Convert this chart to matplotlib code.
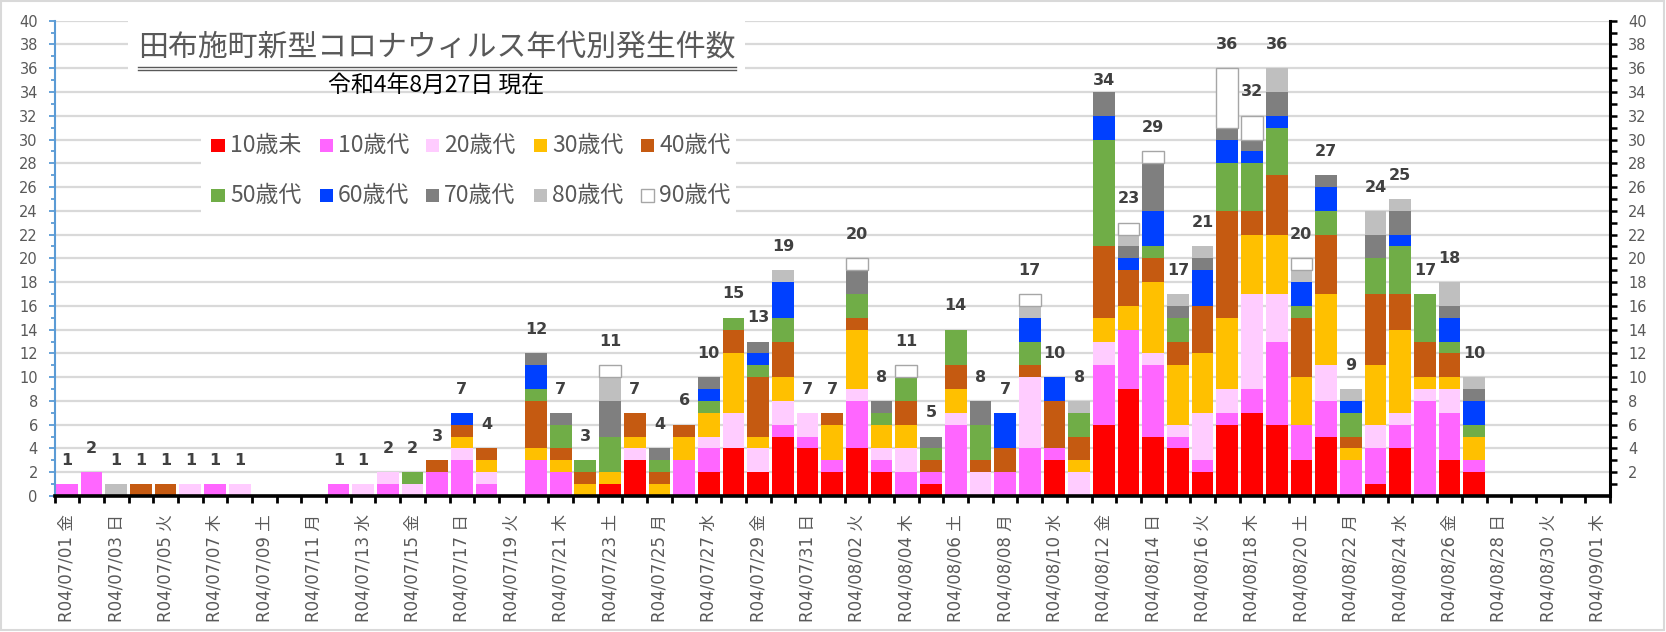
import numpy as np
import matplotlib
matplotlib.use("Agg")
import matplotlib.pyplot as plt
from matplotlib.patches import Rectangle
from matplotlib.lines import Line2D

plt.rcParams['font.family'] = ['Noto Sans CJK JP', 'DejaVu Sans']
NUM_FONT = ['DejaVu Sans', 'Noto Sans CJK JP']

# ---------------- data ----------------
n_days = 63  # R04/07/01 .. R04/09/01

tick_labels = ["R04/07/01 金", "R04/07/03 日", "R04/07/05 火", "R04/07/07 木",
               "R04/07/09 土", "R04/07/11 月", "R04/07/13 水", "R04/07/15 金",
               "R04/07/17 日", "R04/07/19 火", "R04/07/21 木", "R04/07/23 土",
               "R04/07/25 月", "R04/07/27 水", "R04/07/29 金", "R04/07/31 日",
               "R04/08/02 火", "R04/08/04 木", "R04/08/06 土", "R04/08/08 月",
               "R04/08/10 水", "R04/08/12 金", "R04/08/14 日", "R04/08/16 火",
               "R04/08/18 木", "R04/08/20 土", "R04/08/22 月", "R04/08/24 水",
               "R04/08/26 金", "R04/08/28 日", "R04/08/30 火", "R04/09/01 木"]

series_names = ["10歳未", "10歳代", "20歳代", "30歳代", "40歳代",
                "50歳代", "60歳代", "70歳代", "80歳代", "90歳代"]

under10 = [0,0,0,0,0,0,0,0,0,0,
           0,0,0,0,0,0,0,0,0,0,
           0,0,1,3,0,0,2,4,2,5,
           4,2,4,2,0,1,0,0,0,0,
           3,0,6,9,5,4,2,6,7,6,
           3,5,0,1,4,0,3,2,0,0,
           0,0,0]
age10 = [1,2,0,0,0,0,1,0,0,0,
         0,1,0,1,0,2,3,1,0,3,
         2,0,0,0,0,3,2,0,0,1,
         1,1,4,1,2,1,6,0,2,4,
         1,0,5,5,6,1,1,1,2,7,
         3,3,3,3,2,8,4,1,0,0,
         0,0,0]
age20 = [0,0,0,0,0,1,0,1,0,0,
         0,0,1,1,1,0,1,1,0,0,
         0,0,0,1,0,0,1,3,2,2,
         2,0,1,1,2,0,1,2,0,6,
         0,2,2,0,1,1,4,2,8,4,
         0,3,0,2,1,1,2,0,0,0,
         0,0,0]
age30 = [0,0,0,0,0,0,0,0,0,0,
         0,0,0,0,0,0,1,1,0,1,
         1,1,1,1,1,2,2,5,1,2,
         0,3,5,2,2,0,2,0,0,0,
         0,1,2,2,6,5,5,6,5,5,
         4,6,1,5,7,1,1,2,0,0,
         0,0,0]
age40 = [0,0,0,1,1,0,0,0,0,0,
         0,0,0,0,0,1,1,1,0,4,
         1,1,0,2,1,1,0,2,5,3,
         0,1,1,0,2,1,2,1,2,1,
         4,2,6,3,2,2,4,9,2,5,
         5,5,1,6,3,3,2,0,0,0,
         0,0,0]
age50 = [0,0,0,0,0,0,0,0,0,0,
         0,0,0,0,1,0,0,0,0,1,
         2,1,3,0,1,0,1,1,1,2,
         0,0,2,1,2,1,3,3,0,2,
         0,2,9,0,1,2,0,4,4,4,
         1,2,2,3,4,4,1,1,0,0,
         0,0,0]
age60 = [0,0,0,0,0,0,0,0,0,0,
         0,0,0,0,0,0,1,0,0,2,
         0,0,0,0,0,0,1,0,1,3,
         0,0,0,0,0,0,0,0,3,2,
         2,0,2,1,3,0,3,2,1,1,
         2,2,1,0,1,0,2,2,0,0,
         0,0,0]
age70 = [0,0,0,0,0,0,0,0,0,0,
         0,0,0,0,0,0,0,0,0,1,
         1,0,3,0,1,0,1,0,1,0,
         0,0,2,1,0,1,0,2,0,0,
         0,0,2,1,4,1,1,1,1,2,
         0,1,0,2,2,0,1,1,0,0,
         0,0,0]
age80 = [0,0,1,0,0,0,0,0,0,0,
         0,0,0,0,0,0,0,0,0,0,
         0,0,2,0,0,0,0,0,0,1,
         0,0,0,0,0,0,0,0,0,1,
         0,1,0,1,0,1,1,0,0,2,
         1,0,1,2,1,0,2,1,0,0,
         0,0,0]
age90 = [0,0,0,0,0,0,0,0,0,0,
         0,0,0,0,0,0,0,0,0,0,
         0,0,1,0,0,0,0,0,0,0,
         0,0,1,0,1,0,0,0,0,1,
         0,0,0,1,1,0,0,5,2,0,
         1,0,0,0,0,0,0,0,0,0,
         0,0,0]

series_values = [under10, age10, age20, age30, age40,
                 age50, age60, age70, age80, age90]
colors = ["#FF0000", "#FF66FF", "#FFCCFF", "#FFC000", "#C55A11",
          "#70AD47", "#0040FF", "#7F7F7F", "#BFBFBF", "#FFFFFF"]

title = "田布施町新型コロナウィルス年代別発生件数"
subtitle = "令和4年8月27日 現在"

# ---------------- figure ----------------
W, H = 1666, 632
fig = plt.figure(figsize=(W / 100, H / 100), dpi=100)

def fx(px):
    return px / W

def fy(py):
    return 1 - py / H

left, right, top, bottom = 54.5, 1610, 20.7, 496
ax = fig.add_axes([fx(left), fy(bottom), fx(right - left), (bottom - top) / H])

x = np.arange(n_days)
base = np.zeros(n_days)
for name, vals, col in zip(series_names, series_values, colors):
    v = np.array(vals, dtype=float)
    m = v > 0
    if name == "90歳代":
        ax.bar(x[m], v[m], bottom=base[m], width=0.88, color=col,
               edgecolor="#A6A6A6", linewidth=1.0, zorder=2)
    else:
        ax.bar(x[m], v[m], bottom=base[m], width=0.88, color=col,
               linewidth=0, zorder=2)
    base += v

totals = base
label_nudge = {42: -1}
for i, t in enumerate(totals):
    if t > 0:
        ax.text(i, t + 2 + label_nudge.get(i, 0), f"{int(t)}", ha="center",
                va="center", fontsize=11.5, fontweight="bold", color="#404040",
                family="DejaVu Sans", zorder=5)

ax.set_xlim(-0.5, n_days - 0.5)
ax.set_ylim(0, 40)

# grid
ax.set_yticks(np.arange(0, 41, 2))
ax.set_yticks(np.arange(1, 40, 2), minor=True)
ax.yaxis.grid(True, which="major", color="#D9D9D9", linewidth=1.6)
ax.set_axisbelow(True)

# spines
for s in ["top", "right"]:
    ax.spines[s].set_visible(False)
ax.spines["left"].set_color("#5B9BD5")
ax.spines["left"].set_linewidth(1.5)
ax.spines["bottom"].set_color("black")
ax.spines["bottom"].set_linewidth(2.6)

ax.tick_params(axis="y", which="both", direction="out", colors="#5B9BD5",
               labelcolor="#595959", labelsize=10.5, width=1.3, pad=8)
ax.tick_params(axis="y", which="major", length=4)
ax.tick_params(axis="y", which="minor", length=3)
for lb in ax.get_yticklabels():
    lb.set_family(NUM_FONT)

# x ticks: labels every other day, tick marks at category boundaries
ax.set_xticks(np.arange(0, n_days, 2))
ax.set_xticklabels(tick_labels, rotation=90, fontsize=12, color="#595959",
                   family=NUM_FONT)
ax.set_xticks(np.arange(-0.5, n_days, 1), minor=True)
ax.tick_params(axis="x", which="major", length=0, pad=13)
ax.tick_params(axis="x", which="minor", length=5, width=2, color="black",
               direction="out")

# right axis
ax2 = ax.twinx()
ax2.set_ylim(0, 40)
ax2.set_yticks(np.arange(2, 41, 2))
ax2.set_yticks(np.arange(1, 40, 2), minor=True)
for s in ["top", "left", "bottom"]:
    ax2.spines[s].set_visible(False)
ax2.spines["right"].set_color("black")
ax2.spines["right"].set_linewidth(2.2)
ax2.tick_params(axis="y", which="both", direction="out", colors="black",
                labelcolor="#595959", labelsize=10.5, width=1.8, pad=8)
ax2.tick_params(axis="y", which="major", length=5)
ax2.tick_params(axis="y", which="minor", length=5)
for lb in ax2.get_yticklabels():
    lb.set_family(NUM_FONT)

# white boxes (title / legend) hiding gridlines
for (x0, y0, x1, y1) in [(128, 12, 745, 78), (201, 122, 736, 228)]:
    ax.add_patch(Rectangle((fx(x0), fy(y1)), fx(x1 - x0), (y1 - y0) / H,
                           transform=fig.transFigure, facecolor="white",
                           edgecolor="none", zorder=1, clip_on=False))

# title with double underline
t = fig.text(fx(437), fy(48), title, ha="center", va="center", fontsize=21.5,
             color="#595959")
fig.canvas.draw()
bb = t.get_window_extent()
for yy in (67.0, 69.8):
    fig.add_artist(Line2D([bb.x0 / W, bb.x1 / W], [fy(yy), fy(yy)],
                          transform=fig.transFigure, color="#595959",
                          linewidth=1.0))
fig.text(fx(436), fy(86), subtitle, ha="center", va="center", fontsize=16.5,
         color="black")

# legend (manual, 2 rows x 5)
leg_x = [218, 326, 432, 540, 647]
leg_y = [145, 195]
sq = 13
for k, (name, col) in enumerate(zip(series_names, colors)):
    cx = leg_x[k % 5]
    cy = leg_y[k // 5]
    fig.add_artist(Rectangle((fx(cx - sq / 2), fy(cy + sq / 2)), fx(sq), sq / H,
                             transform=fig.transFigure, facecolor=col,
                             edgecolor="#A6A6A6" if name == "90歳代" else "none",
                             linewidth=1.0))
    fig.text(fx(cx + 12), fy(cy), name, ha="left", va="center", fontsize=16.5,
             color="#595959")

# chart border
fig.add_artist(Rectangle((fx(1), fy(H - 2)), fx(W - 3), (H - 3) / H,
                         transform=fig.transFigure, facecolor="none",
                         edgecolor="#D9D9D9", linewidth=1.5))

fig.savefig("out.png", dpi=100)
